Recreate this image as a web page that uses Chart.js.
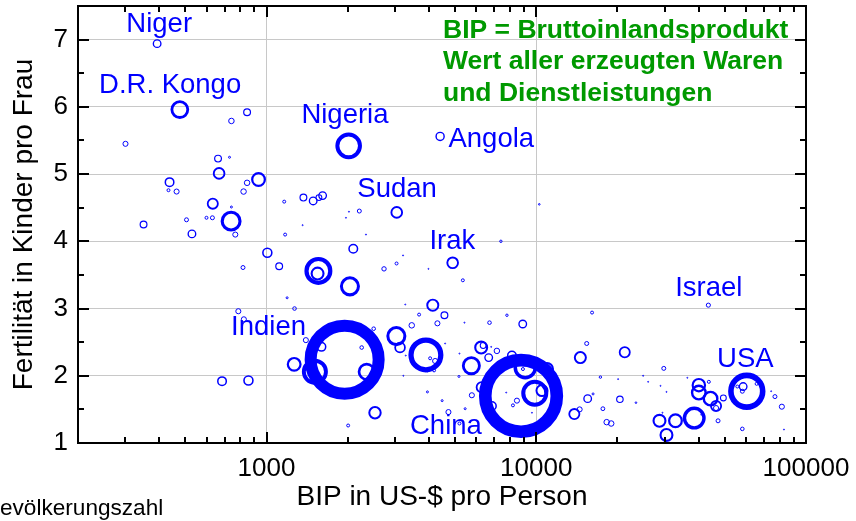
<!DOCTYPE html>
<html><head><meta charset="utf-8">
<script src="https://cdn.jsdelivr.net/npm/chart.js@4.4.1/dist/chart.umd.min.js"></script>
<style>html,body{margin:0;padding:0;background:#fff}#wrap{width:856px;height:521px;position:relative}</style>
</head><body><div id="wrap"><canvas id="c"></canvas></div>
<script>
// GDP per person (US-$), fertility (children per woman), population (millions)
const gdpPerPerson = [393,477,741,847,300,2016,661,729,667,934,437,433,464,847,822,632,741,739,350,505,599,630,529,766,1163,1370,1489,1564,1614,1172,1361,2021,1970,2208,2337,3039,2097,1007,3207,1114,1557,1546,2038,2726,3034,4898,3983,5343,7393,10260,4401,818,1192,1270,786,824,3454,3678,3268,4134,2496,1399,1598,2253,3029,3126,1948,1266,1511,2351,684,857,2524,2007,3215,3282,3949,3898,4041,4217,3949,4180,4566,4300,5417,6709,7784,8910,4593,5190,6248,6356,6663,7145,6806,5746,8124,4477,5168,5770,4725,5449,5190,6275,6847,8781,9103,9872,10500,10960,8925,8478,8194,7737,9639,14570,15380,16100,21280,17290,20110,24900,25990,29700,28880,30390,15510,16240,20420,17660,23420,13840,14480,18240,18960,28630,32820,38510,30390,40060,40060,36310,43630,44270,46400,46400,49390,47200,40890,29370,43450,60330,58480,58070,55640,65610,74270,76720,81370,58070,82850];
const fertility = [6.94,5.96,5.79,5.92,5.45,5.42,5.23,5.25,5.01,4.92,4.88,4.76,4.74,4.87,4.74,4.56,4.51,4.30,4.25,4.32,4.35,4.35,4.11,4.10,4.59,4.65,4.60,4.65,4.68,4.10,4.24,4.44,4.35,4.45,4.10,4.43,3.89,3.83,3.79,3.63,3.56,3.52,3.33,3.59,3.67,3.68,3.59,3.42,4.00,4.55,5.56,3.61,3.16,3.00,2.96,2.84,2.75,2.91,3.06,3.05,2.70,2.53,2.43,2.42,2.59,2.42,2.24,2.17,2.06,2.06,1.92,1.93,1.45,1.26,2.00,2.30,1.76,2.31,2.26,2.22,2.08,2.08,2.90,2.78,2.79,2.79,2.90,2.77,2.48,2.33,2.42,2.45,2.27,2.37,2.43,2.15,2.30,1.63,1.99,1.71,1.46,1.51,1.29,1.83,1.55,1.70,2.12,1.74,1.78,2.10,2.10,1.63,1.56,1.75,1.45,2.27,2.48,2.94,2.35,1.98,1.95,2.00,1.91,2.11,1.85,1.76,1.66,1.73,1.65,1.51,1.60,1.43,1.50,1.31,1.29,1.33,1.33,1.37,1.12,1.86,1.75,1.97,1.91,1.66,1.55,1.52,1.67,1.33,1.42,1.45,3.05,1.77,1.84,1.77,1.84,1.88,1.77,1.69,1.54,1.21,1.20];
const populationMio = [15,66,8,12,7,134,12,1.7,30,42,19,3,7,8,8,27,1.7,83,12,4.7,3,4.7,15,7,3,12,15,9,15,3,0.8,0.8,0.5,4.7,0.8,30,19,21,0.8,12,148,37,76,5.5,3,30,0.5,3,2.2,1.3,17,4.7,1.7,4,7,7,8,3,0.5,32,4,7,19,4,76,25,1210,42,128,61,19,21,34,3,0.5,0.5,1.7,232,3,7,3,3,12,7,0.8,4,2.2,15,0.5,0.5,37,9,15,8,0.5,68,19,1.7,1.7,7,7,1.7,3,27,19,1340,104,138,32,37,3,7,3,0.5,0.5,32,4.7,3,27,2.2,0.5,0.8,0.3,4.7,0.5,0.5,15,1.7,11,4.4,1.3,27,7,8,8,37,42,100,37,40,48,0.5,3,48,27,7,9,4.7,0.5,0.5,5,264,15,4.7,3,3,0.5,4.7,7,4,0.5];

// country labels (text centre / baseline in data coordinates)
const labelNames = ['Niger','D.R. Kongo','Nigeria','Sudan','Angola','Irak','Indien','China','Israel','USA'];
const labelGdp   = [400, 439, 1953, 3047, 6810, 4885, 1017, 4624, 43630, 59570];
const labelFert  = [7.116, 6.208, 5.753, 4.652, 5.405, 3.882, 2.603, 1.14, 3.183, 2.131];

const xMajorTicks = [1000, 10000, 100000];
const yMajorTicks = [1, 2, 3, 4, 5, 6, 7];
const noteLines = ['BIP = Bruttoinlandsprodukt', 'Wert aller erzeugten Waren', 'und Dienstleistungen'];
const xTitle = 'BIP in US-$ pro Person';
const yTitle = 'Fertilität in Kinder pro Frau';
const sizeNote = 'Bevölkerungszahl';

const FONT = '"Liberation Sans", Arial, Helvetica, sans-serif';
const BLUE = 'rgb(0,0,255)';

function outerR(p){ return 1.15 * Math.sqrt(p); }
function bw(p){ return Math.max(0.3 * outerR(p), 1); }
function innerR(p){ return Math.max(outerR(p) - bw(p) / 2, 0.5); }

const points = gdpPerPerson.map((g, i) => ({x: g, y: fertility[i], r: innerR(populationMio[i])}));

const decor = {
  id: 'decor',
  afterDraw(chart) {
    const {ctx, chartArea: a, scales: {x, y}} = chart;
    ctx.save();
    ctx.strokeStyle = '#000';
    ctx.lineWidth = 2;
    ctx.beginPath();
    for (let dec = 100; dec <= 100000; dec *= 10) {
      for (let m = 1; m < 10; m++) {
        const v = dec * m;
        if (v < 200 || v > 100000) continue;
        const px = Math.round(x.getPixelForValue(v));
        const len = xMajorTicks.includes(v) ? 11 : 6;
        ctx.moveTo(px, a.bottom); ctx.lineTo(px, a.bottom - len);
        ctx.moveTo(px, a.top); ctx.lineTo(px, a.top + len);
      }
    }
    for (let v = 1; v <= 7.5001; v += 0.5) {
      const py = Math.round(y.getPixelForValue(v));
      const len = Number.isInteger(v) ? 11 : 6;
      ctx.moveTo(a.left, py); ctx.lineTo(a.left + len, py);
      ctx.moveTo(a.right, py); ctx.lineTo(a.right - len, py);
    }
    ctx.stroke();
    ctx.strokeRect(a.left, a.top, a.right - a.left, a.bottom - a.top);

    ctx.fillStyle = BLUE;
    ctx.font = '27.5px ' + FONT;
    ctx.textAlign = 'center';
    ctx.textBaseline = 'alphabetic';
    labelNames.forEach((n, i) => {
      ctx.fillText(n, x.getPixelForValue(labelGdp[i]), y.getPixelForValue(labelFert[i]));
    });

    ctx.fillStyle = '#009900';
    ctx.font = 'bold 26.5px ' + FONT;
    ctx.textAlign = 'left';
    noteLines.forEach((t, i) => ctx.fillText(t, a.left + 365, a.top + 31.5 + i * 31.7));

    ctx.fillStyle = '#000';
    ctx.font = '22.6px ' + FONT;
    const bW = ctx.measureText('B').width;
    ctx.fillText(sizeNote, -bW, 515);
    ctx.restore();
  }
};

new Chart(document.getElementById('c'), {
  type: 'bubble',
  data: {
    datasets: [{
      data: points,
      backgroundColor: 'rgba(0,0,0,0)',
      borderColor: BLUE,
      borderWidth: ctx => bw(populationMio[ctx.dataIndex]),
      hoverRadius: 0
    }]
  },
  options: {
    responsive: true,
    maintainAspectRatio: false,
    animation: false,
    events: [],
    layout: {autoPadding: false, padding: {left: 0, right: 50, top: 6, bottom: 0}},
    plugins: {legend: {display: false}, tooltip: {enabled: false}},
    scales: {
      x: {
        type: 'logarithmic',
        min: 200, max: 100000,
        afterBuildTicks: s => { s.ticks = xMajorTicks.map(v => ({value: v})); },
        afterFit: s => { s.height = 78; s.paddingLeft = 0; s.paddingRight = 0; s.paddingTop = 0; s.paddingBottom = 0; },
        ticks: {
          callback: v => String(v),
          color: '#000', font: {family: FONT, size: 26}, padding: 10, maxRotation: 0, autoSkip: false
        },
        grid: {color: '#c8c8c8', lineWidth: 1, drawTicks: false},
        border: {display: false},
        title: {display: true, text: xTitle, color: '#000', font: {family: FONT, size: 28}, padding: {top: 0, bottom: 7}}
      },
      y: {
        min: 1, max: 7.5,
        afterBuildTicks: s => { s.ticks = yMajorTicks.map(v => ({value: v})); },
        afterFit: s => { s.width = 78; s.paddingLeft = 0; s.paddingRight = 0; s.paddingTop = 0; s.paddingBottom = 0; },
        ticks: {color: '#000', font: {family: FONT, size: 26}, padding: 10},
        grid: {color: '#c8c8c8', lineWidth: 1, drawTicks: false},
        border: {display: false},
        title: {display: true, text: yTitle, color: '#000', font: {family: FONT, size: 28}, padding: {top: 7, bottom: 0}}
      }
    }
  },
  plugins: [decor]
});
</script>
</body></html>
